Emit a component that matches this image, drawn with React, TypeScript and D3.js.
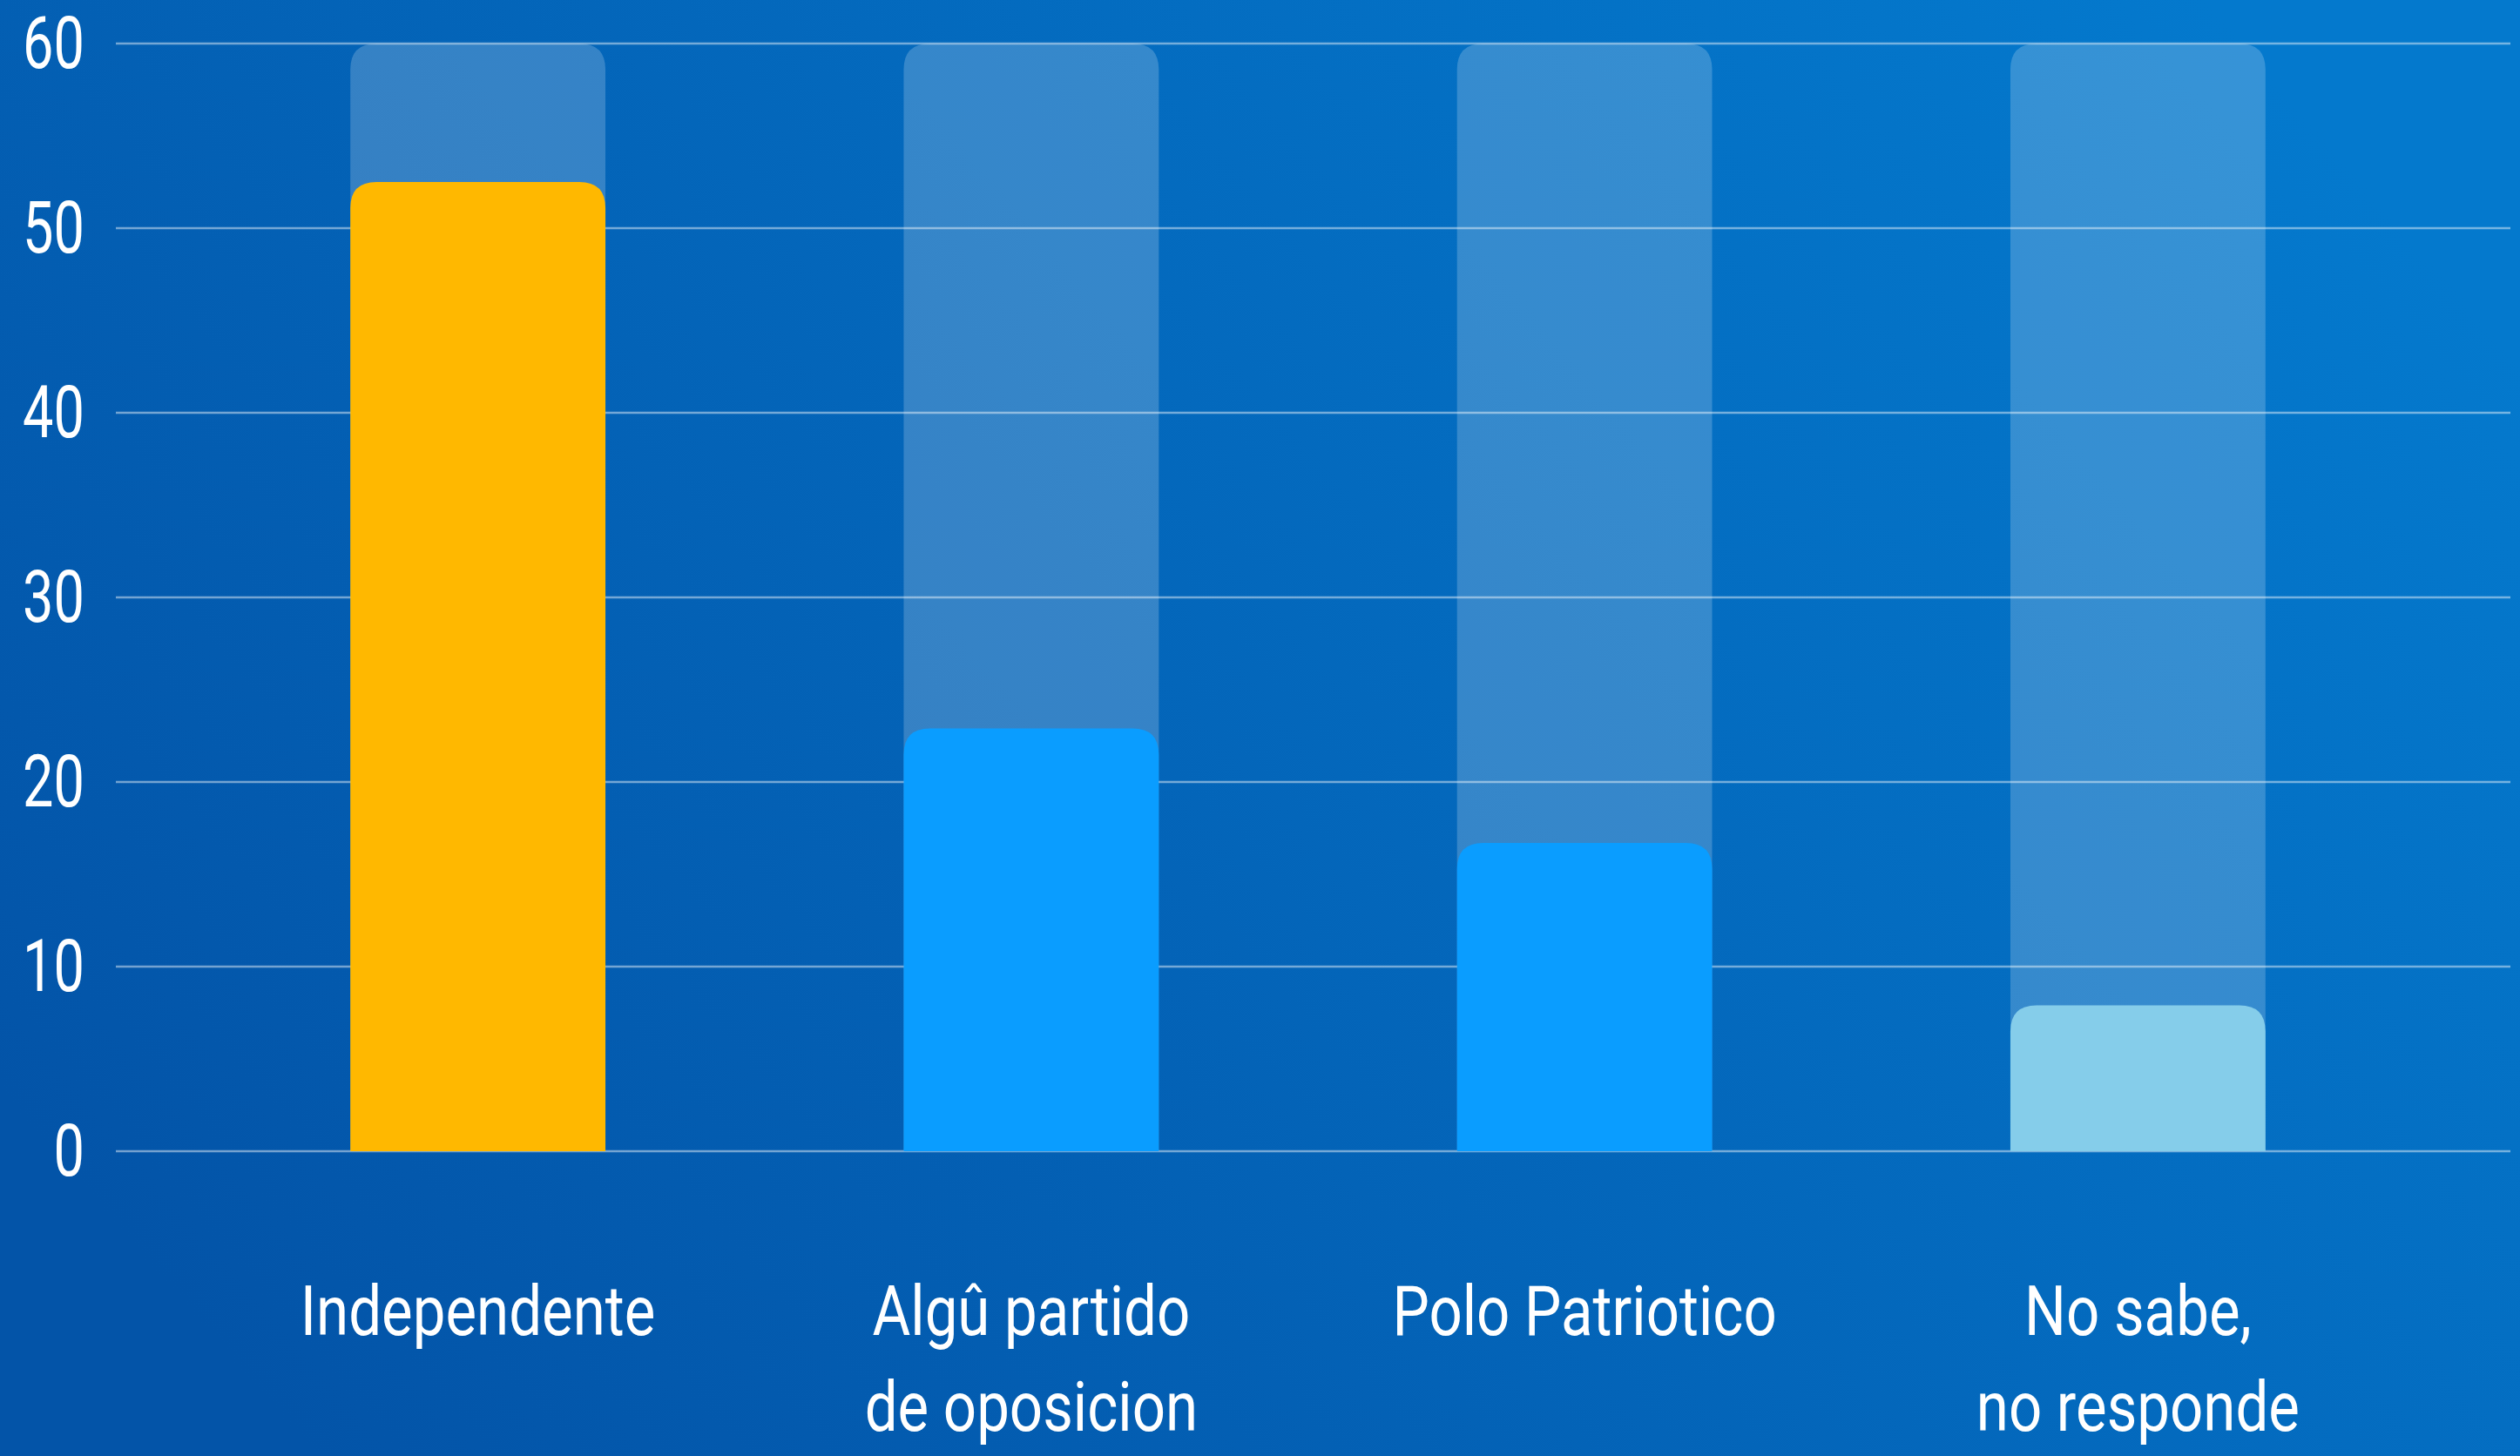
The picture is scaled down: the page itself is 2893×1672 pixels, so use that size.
import React, { useEffect, useRef } from "react";
import * as d3 from "d3";

const categories = ["Independente", "Algû partido\nde oposicion", "Polo Patriotico", "No sabe,\nno responde"];
const values = [52.5, 22.9, 16.7, 7.9];
const barColors = ["#FFB800", "#0A9DFF", "#0A9DFF", "#85CDEA"];
const yTicks = [0, 10, 20, 30, 40, 50, 60];
const yMax = 60;

const W = 2893;
const H = 1672;

export default function App() {
  const ref = useRef<SVGSVGElement | null>(null);

  useEffect(() => {
    document.body.style.margin = "0";
    const svg = d3.select(ref.current);
    svg.selectAll("*").remove();

    const defs = svg.append("defs");
    const grad = defs
      .append("linearGradient")
      .attr("id", "bg")
      .attr("x1", 0)
      .attr("y1", 0.75)
      .attr("x2", 1)
      .attr("y2", 0.25);
    grad.append("stop").attr("offset", 0).attr("stop-color", "#0354a8");
    grad.append("stop").attr("offset", 1).attr("stop-color", "#0479cd");

    svg.append("rect").attr("width", W).attr("height", H).attr("fill", "url(#bg)");

    const gridX0 = 133;
    const gridX1 = 2882;
    const y = d3.scaleLinear().domain([0, yMax]).range([1322, 50]);
    const x = d3
      .scaleBand<string>()
      .domain(categories)
      .range([231, 2772])
      .paddingInner(0.539)
      .paddingOuter(0.2695);

    const bw = x.bandwidth();
    const r = 30;

    const topRounded = (x0: number, y0: number, w: number, h: number, rr: number) => {
      const rad = Math.min(rr, h, w / 2);
      const p = d3.path();
      p.moveTo(x0, y0 + h);
      p.lineTo(x0, y0 + rad);
      p.quadraticCurveTo(x0, y0, x0 + rad, y0);
      p.lineTo(x0 + w - rad, y0);
      p.quadraticCurveTo(x0 + w, y0, x0 + w, y0 + rad);
      p.lineTo(x0 + w, y0 + h);
      p.closePath();
      return p.toString();
    };

    // tracks
    svg
      .append("g")
      .selectAll("path")
      .data(categories)
      .join("path")
      .attr("d", (c) => topRounded(x(c)!, y(yMax), bw, y(0) - y(yMax), r))
      .attr("fill", "rgba(255,255,255,0.2)");

    // gridlines
    svg
      .append("g")
      .selectAll("line")
      .data(yTicks)
      .join("line")
      .attr("x1", gridX0)
      .attr("x2", gridX1)
      .attr("y1", (d) => y(d))
      .attr("y2", (d) => y(d))
      .attr("stroke", "rgba(255,255,255,0.45)")
      .attr("stroke-width", 2.5);

    // bars
    svg
      .append("g")
      .selectAll("path")
      .data(values)
      .join("path")
      .attr("d", (v, i) => topRounded(x(categories[i])!, y(v), bw, y(0) - y(v), r))
      .attr("fill", (_, i) => barColors[i]);

    const font = "Roboto, 'Noto Sans', sans-serif";

    // y tick labels
    svg
      .append("g")
      .selectAll("text")
      .data(yTicks)
      .join("text")
      .attr("transform", (d) => `translate(97,${y(d) + 28}) scale(0.76,1)`)
      .attr("text-anchor", "end")
      .attr("font-family", font)
      .attr("font-size", 83)
      .attr("fill", "#ffffff")
      .text((d) => String(d));

    // category labels
    const lg = svg.append("g");
    categories.forEach((c) => {
      const lines = c.split("\n");
      const cx = x(c)! + bw / 2;
      lines.forEach((ln, j) => {
        lg.append("text")
          .attr("transform", `translate(${cx},${1533 + j * 110}) scale(0.84,1)`)
          .attr("text-anchor", "middle")
          .attr("font-family", font)
          .attr("font-size", 80)
          .attr("fill", "#ffffff")
          .text(ln);
      });
    });
  }, []);

  return (
    <svg
      ref={ref}
      width={W}
      height={H}
      style={{ position: "absolute", left: 0, top: 0, display: "block" }}
    />
  );
}
